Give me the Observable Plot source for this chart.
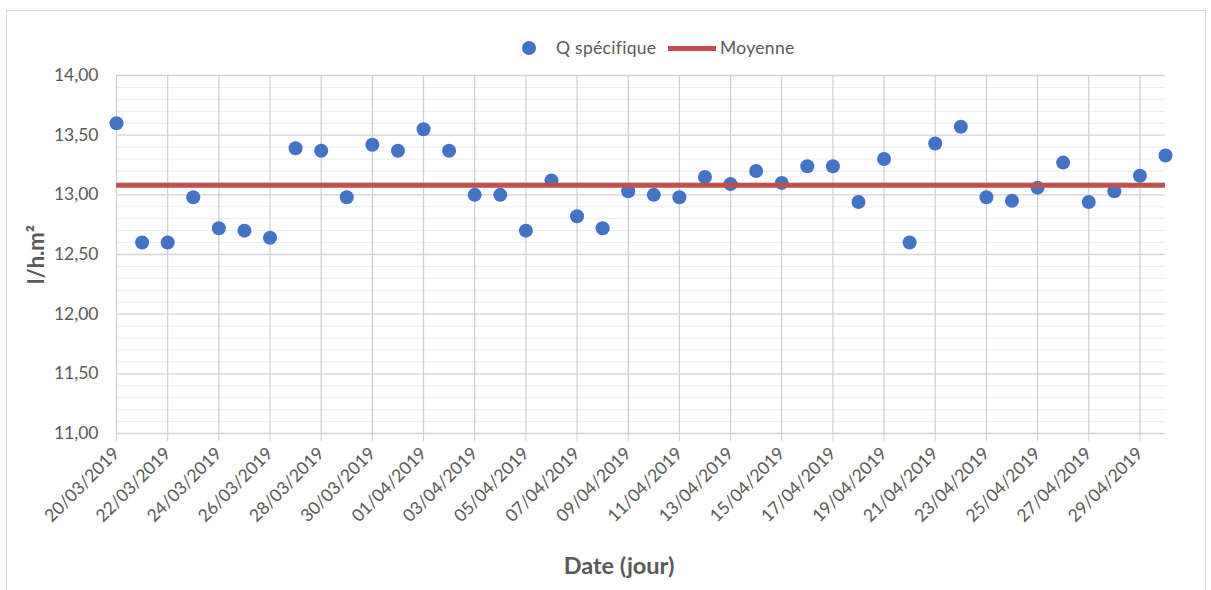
<!DOCTYPE html>
<html><head><meta charset="utf-8">
<script src="https://cdn.jsdelivr.net/npm/d3@7"></script>
<script src="https://cdn.jsdelivr.net/npm/@observablehq/plot@0.6"></script>
<style>
body{margin:0;background:#fff;font-family:Lato,"Noto Sans",sans-serif;}
#wrap{position:relative;width:1211px;height:590px;overflow:hidden;}
#frame{position:absolute;left:6px;top:10px;width:1200px;height:590px;border:1px solid #d9d9d9;box-sizing:border-box;}
#legend{position:absolute;top:36px;left:0;width:1211px;height:24px;font-size:17.5px;color:#595959;letter-spacing:0.3px;}
#legend .dot{position:absolute;left:522px;top:5px;width:14px;height:14px;border-radius:50%;background:#4472c4;}
#legend .t1{position:absolute;left:556px;top:1px;}
#legend .ln{position:absolute;left:668px;top:10px;width:48px;height:5px;background:#c0504d;}
#legend .t2{position:absolute;left:720px;top:1px;}
#chart{position:absolute;left:0;top:0;}
g[aria-label="y-axis label"] text{font-weight:bold;font-size:22px;fill:#595959;}
</style></head>
<body>
<div id="wrap">
<div id="frame"></div>
<div id="chart"></div>
<div id="legend"><span class="dot"></span><span class="t1">Q spécifique</span><span class="ln"></span><span class="t2">Moyenne</span></div>
</div>
<script>
const dates = ["2019-03-20","2019-03-21","2019-03-22","2019-03-23","2019-03-24","2019-03-25","2019-03-26","2019-03-27","2019-03-28","2019-03-29","2019-03-30","2019-03-31","2019-04-01","2019-04-02","2019-04-03","2019-04-04","2019-04-05","2019-04-06","2019-04-07","2019-04-08","2019-04-09","2019-04-10","2019-04-11","2019-04-12","2019-04-13","2019-04-14","2019-04-15","2019-04-16","2019-04-17","2019-04-18","2019-04-19","2019-04-20","2019-04-21","2019-04-22","2019-04-23","2019-04-24","2019-04-25","2019-04-26","2019-04-27","2019-04-28","2019-04-29","2019-04-30"];
const qSpecifique = [13.60,12.60,12.60,12.98,12.72,12.70,12.64,13.39,13.37,12.98,13.42,13.37,13.55,13.37,13.00,13.00,12.70,13.12,12.82,12.72,13.03,13.00,12.98,13.15,13.09,13.20,13.10,13.24,13.24,12.94,13.30,12.60,13.43,13.57,12.98,12.95,13.06,13.27,12.94,13.03,13.16,13.33];
const moyenne = 13.08;
const tickDates = ["2019-03-20","2019-03-22","2019-03-24","2019-03-26","2019-03-28","2019-03-30","2019-04-01","2019-04-03","2019-04-05","2019-04-07","2019-04-09","2019-04-11","2019-04-13","2019-04-15","2019-04-17","2019-04-19","2019-04-21","2019-04-23","2019-04-25","2019-04-27","2019-04-29"];
const yTicks = [11,11.5,12,12.5,13,13.5,14];
const yMinor = d3.range(11.1,14,0.1).map(v=>+v.toFixed(1)).filter(v=>!yTicks.some(t=>Math.abs(t-v)<1e-6));
const xTitle = "Date (jour)";
const yTitle = "l/h.m²";

const data = dates.map((d,i)=>({date:new Date(d+"T00:00:00Z"), q:qSpecifique[i]}));
const ticks = tickDates.map(d=>new Date(d+"T00:00:00Z"));
const fmtDate = d3.utcFormat("%d/%m/%Y");
const fmtY = v => v.toFixed(2).replace(".", ",");

const plot = Plot.plot({
  width:1211, height:590,
  marginLeft:116, marginRight:46, marginTop:75, marginBottom:157,
  style:{fontFamily:"Lato, 'Noto Sans', sans-serif", fontSize:"17px", color:"#595959", background:"transparent"},
  x:{type:"utc", domain:[data[0].date, data[data.length-1].date]},
  y:{domain:[11,14]},
  marks:[
    Plot.ruleY(yMinor,{stroke:"#ececec", strokeWidth:1}),
    Plot.ruleY(yTicks,{stroke:"#d4d4d4", strokeWidth:1.3}),
    Plot.ruleX(ticks,{y1:11, y2:14, stroke:"#cfcfcf", strokeWidth:1.2}),
    Plot.axisX({ticks:ticks, tickFormat:fmtDate, tickRotate:-45, tickSize:8, tickPadding:9, stroke:"#cfcfcf", fill:"#595959", fontSize:17.5, label:null}),
    Plot.axisY({ticks:yTicks, tickFormat:fmtY, tickSize:0, tickPadding:18, fill:"#595959", fontSize:17.5, label:yTitle, labelAnchor:"center", labelOffset:88, labelArrow:"none"}),
    Plot.text([xTitle],{frameAnchor:"bottom", dx:-22, dy:140, text:d=>d, fontSize:23.5, fontWeight:"bold", fill:"#595959"}),
    Plot.dot(data,{x:"date", y:"q", r:7, fill:"#4472c4", stroke:null}),
    Plot.ruleY([moyenne],{stroke:"#c0504d", strokeWidth:5})
  ]
});
document.getElementById("chart").appendChild(plot);
</script>
</body></html>
